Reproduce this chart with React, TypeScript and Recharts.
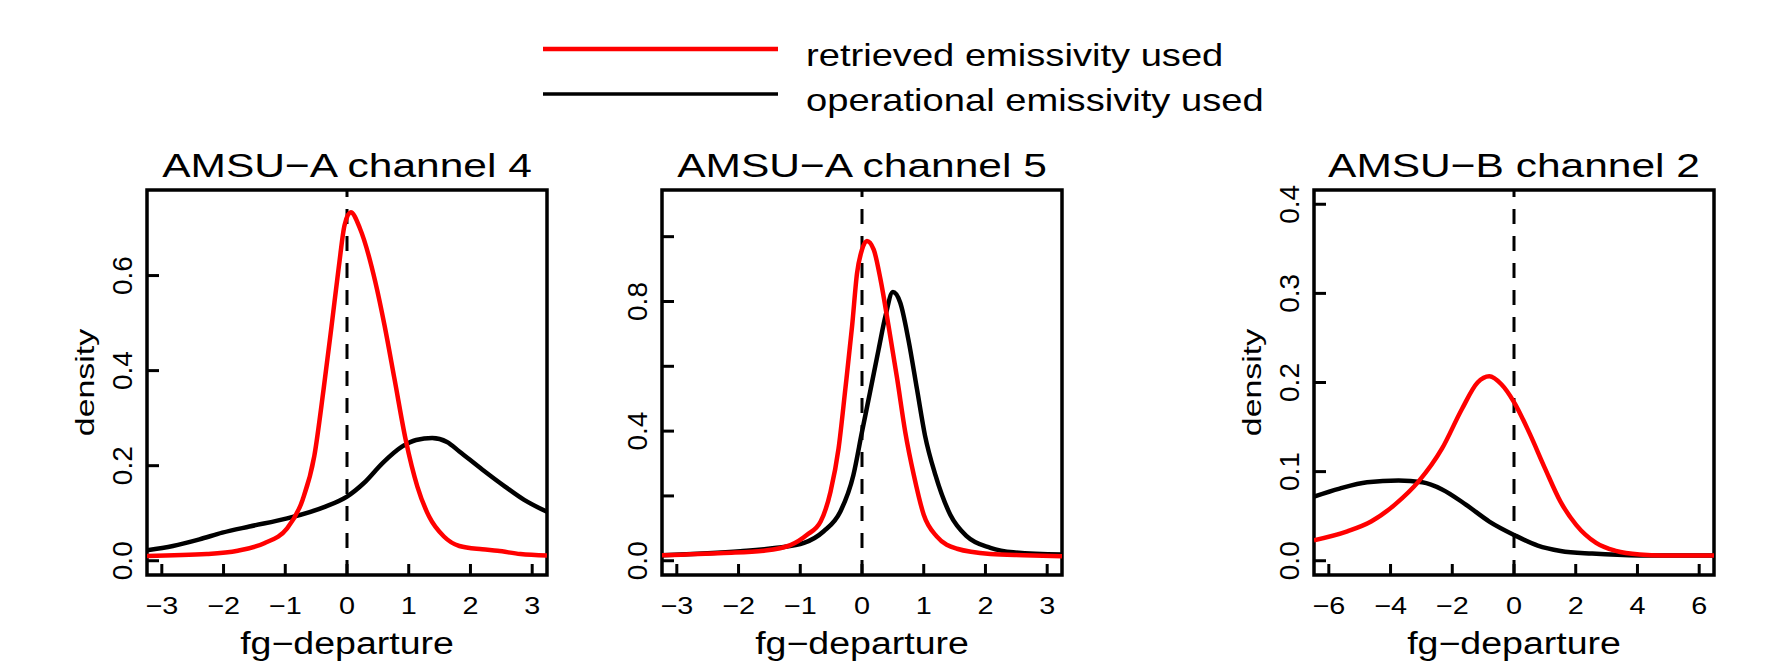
import { LineChart, Line, XAxis, YAxis, ReferenceLine, ReferenceArea } from 'recharts'

const FONT = '"Liberation Sans", Arial, Helvetica, sans-serif'
const RED = '#ff0000'
const BLACK = '#000000'

// AMSU-A channel 4
const ch4RetX = [-3.24, -2.27, -1.77, -1.34, -0.97, -0.72, -0.53, -0.38, -0.25, -0.13, -0.04, 0.06, 0.21, 0.46, 0.61, 0.77, 0.95, 1.14, 1.33, 1.57, 1.82, 2.19, 2.44, 2.81, 3.24]
const ch4RetY = [0.010, 0.014, 0.021, 0.037, 0.068, 0.128, 0.22, 0.36, 0.494, 0.621, 0.706, 0.733, 0.699, 0.586, 0.494, 0.382, 0.255, 0.156, 0.093, 0.051, 0.031, 0.024, 0.021, 0.014, 0.011]
const ch4OpX = [-3.24, -2.82, -2.39, -2.02, -1.58, -0.97, -0.35, 0.0, 0.27, 0.58, 0.89, 1.12, 1.38, 1.62, 1.82, 2.19, 2.56, 2.87, 3.24]
const ch4OpY = [0.022, 0.031, 0.045, 0.059, 0.072, 0.089, 0.114, 0.135, 0.163, 0.206, 0.240, 0.254, 0.258, 0.250, 0.230, 0.192, 0.156, 0.128, 0.103]

// AMSU-A channel 5
const ch5RetX = [-3.24, -2.24, -1.59, -1.16, -0.89, -0.67, -0.51, -0.38, -0.27, -0.16, -0.08, 0.0, 0.08, 0.19, 0.3, 0.43, 0.57, 0.7, 0.84, 1.0, 1.21, 1.54, 2.08, 2.62, 3.24]
const ch5RetY = [0.017, 0.024, 0.031, 0.048, 0.080, 0.121, 0.213, 0.346, 0.53, 0.725, 0.888, 0.96, 0.987, 0.96, 0.868, 0.725, 0.561, 0.398, 0.264, 0.142, 0.075, 0.037, 0.021, 0.017, 0.014]
const ch5OpX = [-3.24, -1.97, -1.38, -0.94, -0.62, -0.35, -0.14, 0.0, 0.13, 0.27, 0.38, 0.5, 0.62, 0.75, 0.89, 1.02, 1.19, 1.43, 1.7, 2.08, 2.45, 3.24]
const ch5OpY = [0.017, 0.029, 0.040, 0.055, 0.091, 0.152, 0.264, 0.398, 0.52, 0.653, 0.755, 0.829, 0.796, 0.684, 0.53, 0.387, 0.264, 0.142, 0.075, 0.040, 0.026, 0.019]

// AMSU-B channel 2
const b2RetX = [-6.48, -5.4, -4.63, -3.86, -3.09, -2.33, -1.69, -1.18, -0.8, -0.41, 0.0, 0.49, 1.0, 1.51, 2.02, 2.66, 3.3, 4.07, 4.83, 6.48]
const b2RetY = [0.023, 0.033, 0.044, 0.063, 0.089, 0.126, 0.170, 0.200, 0.207, 0.198, 0.178, 0.144, 0.104, 0.066, 0.040, 0.020, 0.011, 0.007, 0.006, 0.006]
const b2OpX = [-6.48, -5.65, -4.76, -3.74, -2.97, -2.33, -1.56, -0.8, 0.0, 0.77, 1.51, 2.53, 4.07, 6.48]
const b2OpY = [0.072, 0.081, 0.088, 0.090, 0.088, 0.080, 0.063, 0.044, 0.029, 0.017, 0.011, 0.008, 0.006, 0.006]

const ticksA = [-3, -2, -1, 0, 1, 2, 3]
const ticksB = [-6, -4, -2, 0, 2, 4, 6]
const yTicks4 = [0, 0.2, 0.4, 0.6]
const yTicks5 = [0, 0.2, 0.4, 0.6, 0.8, 1.0]
const yLabels5 = [0, 0.4, 0.8]
const yTicksB2 = [0, 0.1, 0.2, 0.3, 0.4]

const zip = (xs: number[], ys: number[]) => xs.map((x, i) => ({ x, y: ys[i] }))

// plot box inside each chart
const BOX_L = 100
const BOX_W = 400
const BOX_T = 190
const BOX_B = 575

const panels = [
  { title: 'AMSU\u2212A channel 4', left: 147, xDomain: [-3.24, 3.24], yDomain: [-0.03, 0.78], xTicks: ticksA, yTicks: yTicks4, yLabels: yTicks4, density: true, ret: zip(ch4RetX, ch4RetY), op: zip(ch4OpX, ch4OpY) },
  { title: 'AMSU\u2212A channel 5', left: 662, xDomain: [-3.24, 3.24], yDomain: [-0.044, 1.144], xTicks: ticksA, yTicks: yTicks5, yLabels: yLabels5, density: false, ret: zip(ch5RetX, ch5RetY), op: zip(ch5OpX, ch5OpY) },
  { title: 'AMSU\u2212B channel 2', left: 1314, xDomain: [-6.48, 6.48], yDomain: [-0.016, 0.416], xTicks: ticksB, yTicks: yTicksB2, yLabels: yTicksB2, density: true, ret: zip(b2RetX, b2RetY), op: zip(b2OpX, b2OpY) },
]

function SText({ x, y, size, sx = 1, rot = 0, anchor = 'middle', children }: any) {
  return (
    <text
      transform={`translate(${x},${y}) rotate(${rot}) scale(${sx},1)`}
      textAnchor={anchor}
      fontSize={size}
      fontFamily={FONT}
      fill="#000"
    >
      {children}
    </text>
  )
}

const fmtX = (v: number) => (v < 0 ? '\u2212' + Math.abs(v) : String(v))

function XTick(props: any) {
  const { x, payload } = props
  return (
    <g>
      <line x1={x} x2={x} y1={BOX_B} y2={BOX_B - 11} stroke="#000" strokeWidth={3} />
      <SText x={x} y={614} size={24} sx={1.2}>{fmtX(payload.value)}</SText>
    </g>
  )
}

function YTick(props: any) {
  const { y, payload, labels } = props
  const show = labels.some((l: number) => Math.abs(l - payload.value) < 1e-9)
  return (
    <g>
      <line x1={BOX_L} x2={BOX_L + 12} y1={y} y2={y} stroke="#000" strokeWidth={3} />
      {show && <SText x={BOX_L - 15} y={y} size={28} rot={-90}>{payload.value.toFixed(1)}</SText>}
    </g>
  )
}

function Panel({ p }: any) {
  return (
    <div style={{ position: 'absolute', left: p.left - BOX_L, top: 0 }}>
      <LineChart width={BOX_L + BOX_W + 10} height={667} margin={{ top: BOX_T, right: 10, bottom: 0, left: 0 }}>
        <XAxis
          type="number"
          dataKey="x"
          domain={p.xDomain}
          ticks={p.xTicks}
          interval={0}
          allowDataOverflow
          axisLine={false}
          tickLine={false}
          height={667 - BOX_B}
          tick={(t: any) => <XTick {...t} />}
          label={() => <SText x={BOX_L + BOX_W / 2} y={654} size={31} sx={1.21}>fg{'\u2212'}departure</SText>}
        />
        <YAxis
          type="number"
          domain={p.yDomain}
          ticks={p.yTicks}
          interval={0}
          allowDataOverflow
          axisLine={false}
          tickLine={false}
          width={BOX_L}
          tick={(t: any) => <YTick {...t} labels={p.yLabels} />}
          label={p.density ? () => <SText x={BOX_L - 53} y={(BOX_T + BOX_B) / 2} size={26.5} sx={1.28} rot={-90}>density</SText> : undefined}
        />
        <ReferenceLine x={0} stroke="#000" strokeWidth={3} strokeDasharray="15 12" />
        <Line data={p.op} dataKey="y" type="monotone" stroke={BLACK} strokeWidth={4.5} dot={false} isAnimationActive={false} />
        <Line data={p.ret} dataKey="y" type="monotone" stroke={RED} strokeWidth={4.5} dot={false} isAnimationActive={false} />
        <ReferenceArea
          x1={p.xDomain[0]}
          x2={p.xDomain[1]}
          y1={p.yDomain[0]}
          y2={p.yDomain[1]}
          fill="none"
          fillOpacity={0}
          stroke="#000"
          strokeWidth={3.5}
          label={() => <SText x={BOX_L + BOX_W / 2} y={177} size={34} sx={1.25}>{p.title}</SText>}
        />
      </LineChart>
    </div>
  )
}

function Legend() {
  return (
    <svg width={1769} height={130} style={{ position: 'absolute', left: 0, top: 0 }}>
      <line x1={543} x2={778} y1={49} y2={49} stroke={RED} strokeWidth={4.5} />
      <line x1={543} x2={778} y1={94} y2={94} stroke={BLACK} strokeWidth={3.5} />
      <SText x={806} y={66} size={30.5} sx={1.25} anchor="start">retrieved emissivity used</SText>
      <SText x={806} y={111} size={30.5} sx={1.25} anchor="start">operational emissivity used</SText>
    </svg>
  )
}

export default function App() {
  return (
    <div style={{ position: 'absolute', left: 0, top: 0, width: 1769, height: 667, background: '#fff' }}>
      <Legend />
      {panels.map(p => (
        <Panel key={p.title} p={p} />
      ))}
    </div>
  )
}
